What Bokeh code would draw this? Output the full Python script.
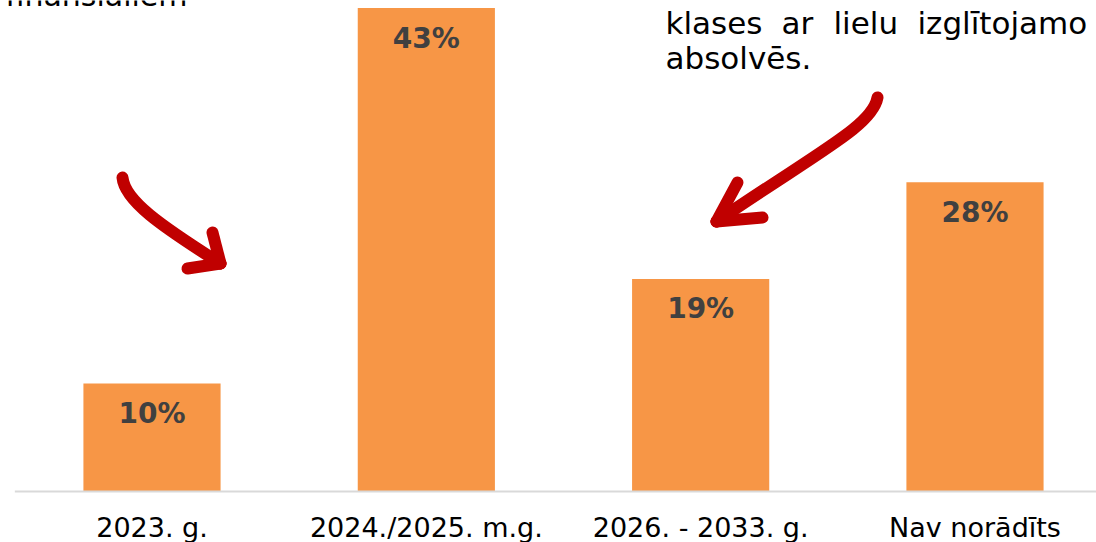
from bokeh.plotting import figure
from bokeh.models import Range1d, ColumnDataSource
from bokeh.core.properties import value
from bokeh.embed import file_html
from bokeh.resources import INLINE

# ---- data ----
categories = ["2023. g.", "2024./2025. m.g.", "2026. - 2033. g.", "Nav norādīts"]
values = [9.6, 43.0, 18.9, 27.5]
value_labels = ["10%", "43%", "19%", "28%"]

# annotation texts (layout in page pixels)
note_left = "finansiāliem"
note_line1_words = ["klases", "ar", "lielu", "izglītojamo"]
note_line1_px = [665, 781, 833, 917]
note_line2 = "absolvēs."

BAR_COLOR = "#F79646"
LABEL_COLOR = "#404040"
ARROW_COLOR = "#C00000"

W, H = 1096, 542
SX = 274.33
X0 = -151.5 / SX
X1 = X0 + W / SX
SY = 483.5 / 43.0
Y1 = 43.0 + 7.5 / SY
Y0 = Y1 - H / SY
BASE_SHIFT = 11  # rendered alphabetic baseline sits lower than requested


def px_x(px):
    return X0 + px / SX


def px_y(py):
    return Y1 - py / SY


idx = list(range(len(categories)))
src = ColumnDataSource(dict(x=idx, top=values, lab=value_labels, cat=categories,
                            zero=[0] * len(idx)))

p = figure(width=W, height=H, output_backend="svg", toolbar_location=None,
           x_range=Range1d(X0, X1), y_range=Range1d(Y0, Y1), min_border=0)
p.axis.visible = False
p.grid.visible = False
p.outline_line_color = None
p.background_fill_color = "white"
p.border_fill_color = "white"

p.vbar(x="x", top="top", bottom=0, width=0.5, source=src,
       fill_color=BAR_COLOR, line_color=None)

# baseline
p.segment(x0=[-0.5], y0=[0], x1=[X1], y1=[0], line_color="#D9D9D9", line_width=2)

# value labels inside bars
p.text(x="x", y="top", text="lab", source=src, text_align="center",
       text_baseline="middle", y_offset=30, text_color=LABEL_COLOR,
       text_font=value("DejaVu Sans"), text_font_style="bold",
       text_font_size="28px")

# category labels
p.text(x="x", y="zero", text="cat", source=src, text_align="center",
       text_baseline="middle", y_offset=36, text_color="black",
       text_font=value("DejaVu Sans"), text_font_size="27px")

# annotation texts
p.text(x=[px_x(5)], y=[px_y(6 - BASE_SHIFT)], text=[note_left], text_align="left",
       text_baseline="alphabetic", text_color="black",
       text_font=value("DejaVu Sans"), text_font_size="30px")
p.text(x=[px_x(v) for v in note_line1_px],
       y=[px_y(33 - BASE_SHIFT)] * len(note_line1_words),
       text=note_line1_words, text_align="left", text_baseline="alphabetic",
       text_color="black", text_font=value("DejaVu Sans"), text_font_size="31px")
p.text(x=[px_x(665)], y=[px_y(68 - BASE_SHIFT)], text=[note_line2], text_align="left",
       text_baseline="alphabetic", text_color="black",
       text_font=value("DejaVu Sans"), text_font_size="31px")

# curved arrows (page pixel geometry)
arrows = [
    dict(p0=(122, 177), c1=(124, 200), c2=(160, 225), p1=(220, 263),
         heads=[(212, 232), (187, 268)]),
    dict(p0=(877, 97), c1=(872, 125), c2=(820, 150), p1=(716, 221),
         heads=[(737, 182), (762, 217)]),
]
for a in arrows:
    p.bezier(x0=[px_x(a["p0"][0])], y0=[px_y(a["p0"][1])],
             x1=[px_x(a["p1"][0])], y1=[px_y(a["p1"][1])],
             cx0=[px_x(a["c1"][0])], cy0=[px_y(a["c1"][1])],
             cx1=[px_x(a["c2"][0])], cy1=[px_y(a["c2"][1])],
             line_color=ARROW_COLOR, line_width=12, line_cap="round")
    tx, ty = a["p1"]
    p.multi_line(xs=[[px_x(hx), px_x(tx)] for hx, hy in a["heads"]],
                 ys=[[px_y(hy), px_y(ty)] for hx, hy in a["heads"]],
                 line_color=ARROW_COLOR, line_width=12, line_cap="round",
                 line_join="round")

open("out.html", "w").write(file_html(p, INLINE))
